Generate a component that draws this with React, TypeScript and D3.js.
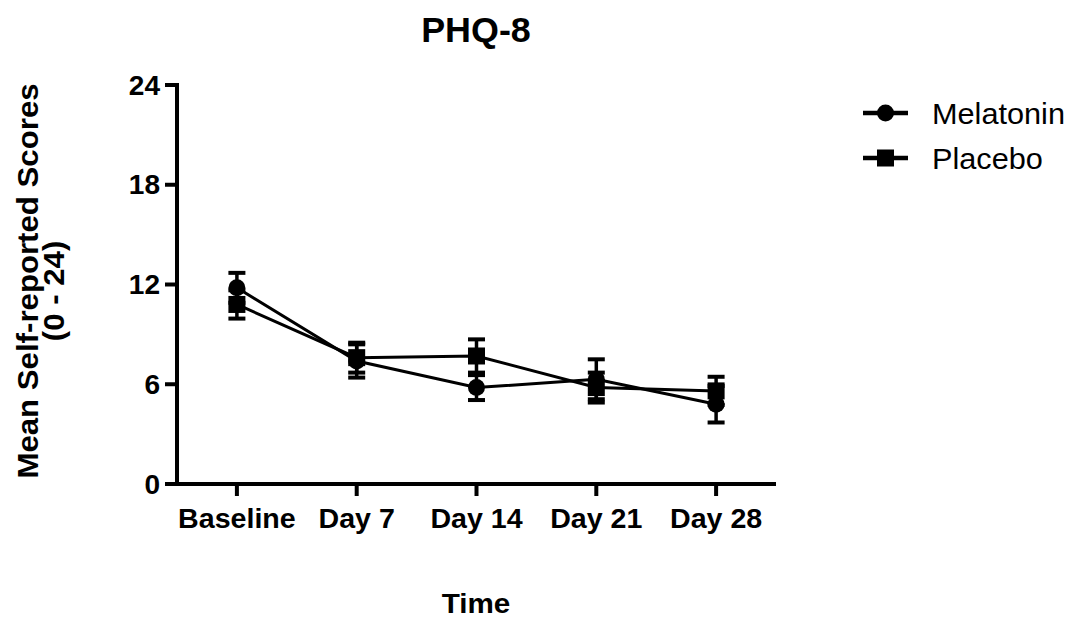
import React from "react";
import * as d3 from "d3";

// PHQ-8 mean scores (± SEM) by visit
const timepoints = ["Baseline", "Day 7", "Day 14", "Day 21", "Day 28"];
const melatoninMean = [11.8, 7.4, 5.8, 6.3, 4.8];
const melatoninSem = [0.9, 1.0, 0.75, 1.2, 1.1];
const placeboMean = [10.8, 7.6, 7.7, 5.8, 5.6];
const placeboSem = [0.85, 0.9, 1.0, 0.9, 0.85];
const yTicks = [0, 6, 12, 18, 24];

const W = 1074;
const H = 622;
const FONT = "'Liberation Sans', Arial, Helvetica, sans-serif";
const STRETCH = 1.04;

const x = d3.scalePoint<string>().domain(timepoints).range([177, 776]).padding(0.5);
const y = d3.scaleLinear().domain([0, 24]).range([484, 85]);

type Series = { name: string; mean: number[]; sem: number[]; shape: "circle" | "square" };
const series: Series[] = [
  { name: "Melatonin", mean: melatoninMean, sem: melatoninSem, shape: "circle" },
  { name: "Placebo", mean: placeboMean, sem: placeboSem, shape: "square" },
];

function Label(props: {
  x: number;
  y: number;
  size: number;
  anchor?: "start" | "middle" | "end";
  weight?: string | number;
  rotate?: number;
  children: React.ReactNode;
}) {
  const { x: tx, y: ty, size, anchor = "middle", weight = "bold", rotate = 0, children } = props;
  return (
    <text
      transform={`translate(${tx},${ty}) rotate(${rotate}) scale(${STRETCH},1)`}
      fontFamily={FONT}
      fontSize={size}
      fontWeight={weight}
      textAnchor={anchor}
      fill="#000"
    >
      {children}
    </text>
  );
}

function Marker({ shape, cx, cy }: { shape: "circle" | "square"; cx: number; cy: number }) {
  if (shape === "circle") return <circle cx={cx} cy={cy} r={8.5} fill="#000" />;
  return <rect x={cx - 8.5} y={cy - 8.5} width={17} height={17} fill="#000" />;
}

export default function App() {
  const line = d3
    .line<number>()
    .x((_, i) => x(timepoints[i]) as number)
    .y((d) => y(d));

  return (
    <svg
      width={W}
      height={H}
      viewBox={`0 0 ${W} ${H}`}
      style={{ position: "absolute", left: 0, top: 0, background: "#fff" }}
    >
      <rect width={W} height={H} fill="#fff" />

      {/* title */}
      <Label x={476} y={42} size={34.5}>
        PHQ-8
      </Label>

      {/* y axis */}
      <line x1={177} x2={177} y1={y(24) - 2} y2={y(0) + 2} stroke="#000" strokeWidth={4} />
      {yTicks.map((t) => (
        <g key={t}>
          <line x1={165} x2={177} y1={y(t)} y2={y(t)} stroke="#000" strokeWidth={4} />
          <Label x={160} y={y(t) + 9.5} size={27} anchor="end">
            {t}
          </Label>
        </g>
      ))}

      {/* x axis */}
      <line x1={175} x2={776} y1={y(0)} y2={y(0)} stroke="#000" strokeWidth={4} />
      {timepoints.map((c) => (
        <g key={c}>
          <line x1={x(c)} x2={x(c)} y1={y(0)} y2={y(0) + 12} stroke="#000" strokeWidth={4} />
          <Label x={x(c) as number} y={528} size={27.5}>
            {c}
          </Label>
        </g>
      ))}

      {/* axis titles */}
      <Label x={38} y={281} size={30} rotate={-90}>
        Mean Self-reported Scores
      </Label>
      <Label x={64} y={291} size={30} rotate={-90}>
        (0 - 24)
      </Label>
      <Label x={476} y={613} size={28.5}>
        Time
      </Label>

      {/* series */}
      {series.map((s) => (
        <g key={s.name}>
          <path d={line(s.mean) || ""} fill="none" stroke="#000" strokeWidth={3} />
          {s.mean.map((m, i) => {
            const cx = x(timepoints[i]) as number;
            const top = y(m + s.sem[i]);
            const bot = y(m - s.sem[i]);
            return (
              <g key={i}>
                <line x1={cx} x2={cx} y1={top} y2={bot} stroke="#000" strokeWidth={3.5} />
                <line x1={cx - 8.5} x2={cx + 8.5} y1={top} y2={top} stroke="#000" strokeWidth={4} />
                <line x1={cx - 8.5} x2={cx + 8.5} y1={bot} y2={bot} stroke="#000" strokeWidth={4} />
                <Marker shape={s.shape} cx={cx} cy={y(m)} />
              </g>
            );
          })}
        </g>
      ))}

      {/* legend */}
      {series.map((s, i) => {
        const ly = 113 + i * 45;
        return (
          <g key={s.name}>
            <line x1={863} x2={908} y1={ly} y2={ly} stroke="#000" strokeWidth={4.5} />
            <Marker shape={s.shape} cx={885.5} cy={ly} />
            <Label x={932} y={ly + 10.5} size={29.5} anchor="start" weight="normal">
              {s.name}
            </Label>
          </g>
        );
      })}
    </svg>
  );
}
